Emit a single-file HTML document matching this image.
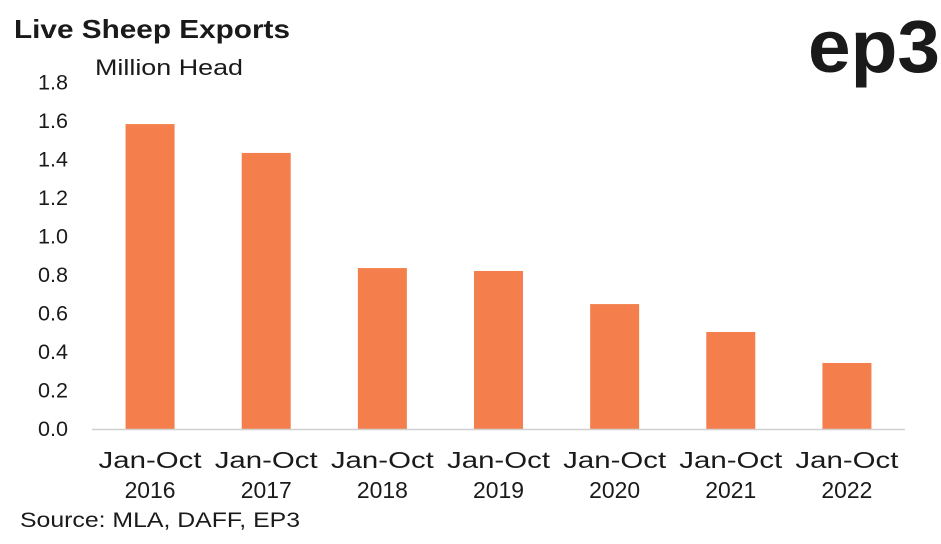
<!DOCTYPE html>
<html><head><meta charset="utf-8">
<style>
html,body{margin:0;padding:0;background:#fff;}
body{width:941px;height:539px;overflow:hidden;font-family:"Liberation Sans",sans-serif;}
</style></head>
<body>
<svg id="chart" width="941" height="539" xmlns="http://www.w3.org/2000/svg" font-family="Liberation Sans, sans-serif">
<text x="14" y="38" font-size="26" font-weight="bold" fill="#1a1a1a" textLength="276" lengthAdjust="spacingAndGlyphs">Live Sheep Exports</text>
<text x="95" y="75" font-size="22" fill="#1a1a1a" textLength="148" lengthAdjust="spacingAndGlyphs">Million Head</text>
<text x="808" y="72" font-size="74" font-weight="bold" fill="#1a1a1a" textLength="132" lengthAdjust="spacingAndGlyphs">ep3</text>
<text x="20" y="527" font-size="21" fill="#1a1a1a" textLength="280" lengthAdjust="spacingAndGlyphs">Source: MLA, DAFF, EP3</text>
<g id="plot"></g>
</svg>
<script>
const categories = ["Jan-Oct 2016","Jan-Oct 2017","Jan-Oct 2018","Jan-Oct 2019","Jan-Oct 2020","Jan-Oct 2021","Jan-Oct 2022"];
const values = [1.584,1.434,0.836,0.821,0.649,0.504,0.343];
const yTicks = [0,0.2,0.4,0.6,0.8,1.0,1.2,1.4,1.6,1.8];
const NS="http://www.w3.org/2000/svg";
const g=document.getElementById('plot');
const x0=92,x1=905,y0=429,pxPerUnit=192.5;
const y=v=>y0-v*pxPerUnit;
const band=(x1-x0)/categories.length;
const xc=i=>x0+band*(i+0.5);
function mk(t,a){const e=document.createElementNS(NS,t);for(const k in a)e.setAttribute(k,a[k]);g.appendChild(e);return e;}
yTicks.forEach(t=>{
  const e=mk('text',{x:68,y:y(t)+7,'text-anchor':'end','font-size':21,fill:'#1a1a1a',textLength:30,lengthAdjust:'spacingAndGlyphs'});
  e.textContent=t.toFixed(1);
  
  
});
values.forEach((v,i)=>{
  const r=mk('rect',{x:xc(i)-24.5,y:y(v),width:49,height:v*pxPerUnit,fill:'#f47f4d'});
  
  
  const parts=categories[i].split(' ');
  const t=mk('text',{x:xc(i),y:468,'text-anchor':'middle','font-size':23,fill:'#1a1a1a',textLength:103,lengthAdjust:'spacingAndGlyphs'});
  t.textContent=parts[0];
  
  
  const t2=mk('text',{x:xc(i),y:498,'text-anchor':'middle','font-size':23,fill:'#1a1a1a',textLength:51,lengthAdjust:'spacingAndGlyphs'});
  t2.textContent=parts[1];
  
  
});
const ax=mk('line',{x1:x0,x2:x1,y1:y0+0.5,y2:y0+0.5,stroke:'#d0d0d0','stroke-width':1.5});


</script>
</body></html>
